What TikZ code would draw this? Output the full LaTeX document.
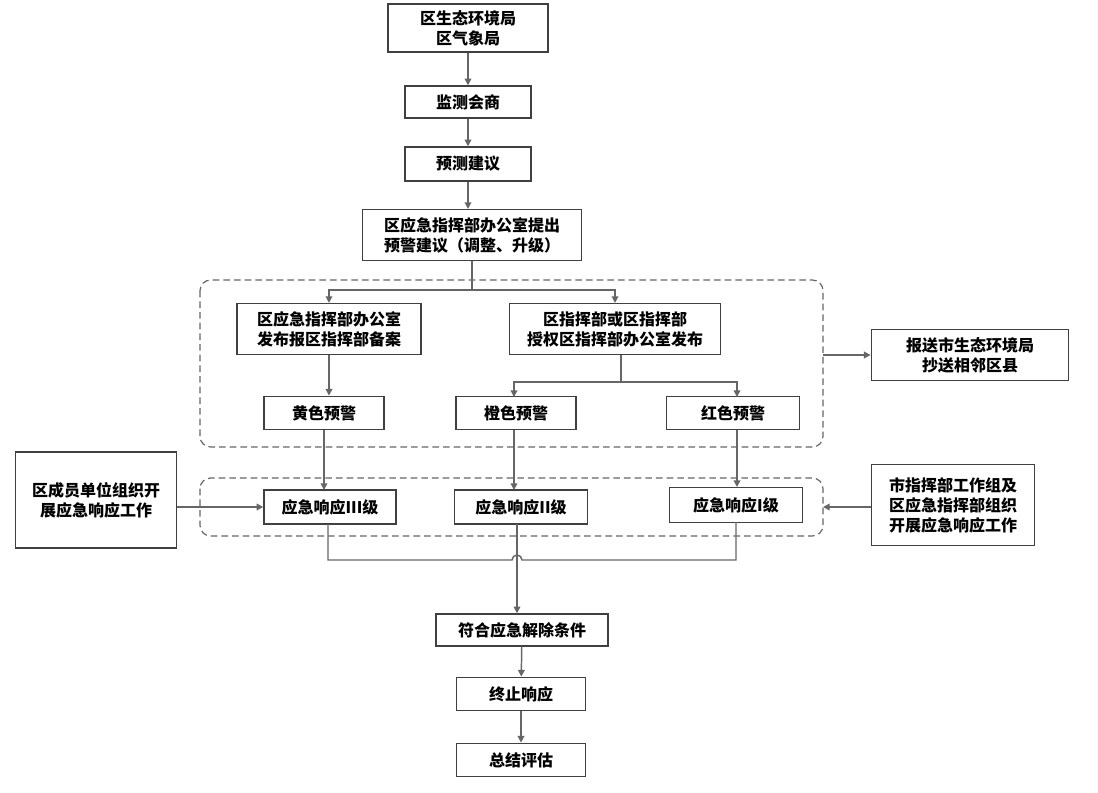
\documentclass[tikz,border=0pt]{standalone}
\usepackage{fontspec}
\setmainfont{Noto Sans CJK SC}
\usetikzlibrary{arrows.meta}
\begin{document}
\begin{tikzpicture}[x=0.75pt,y=-0.75pt,
 box/.style={draw=black!75,line width=1.1pt,fill=white,inner sep=0pt,align=center,font=\fontsize{12}{15}\selectfont\bfseries},
 ln/.style={draw=black!60,line width=1.1pt},
 ar/.style={ln,-{Triangle[length=5pt,width=5pt]}},
 dsh/.style={draw=black!60,line width=0.9pt,dash pattern=on 5pt off 3pt,rounded corners=8pt}]
\useasboundingbox (0,0) rectangle (1098,792);
\draw[dsh] (200,280) rectangle (823,447);
\draw[dsh] (200,478) rectangle (823,536);
\node[box,minimum width=120pt,minimum height=36pt] (a) at (468,28) {区生态环境局\\区气象局};
\node[box,minimum width=94.5pt,minimum height=24pt] (b) at (468,102) {监测会商};
\node[box,minimum width=94.5pt,minimum height=25.5pt] (c) at (468,164) {预测建议};
\node[box,minimum width=164pt,minimum height=38pt] (d) at (472,235) {区应急指挥部办公室提出\\预警建议（调整、升级）};
\node[box,minimum width=138pt,minimum height=38pt] (e) at (329,329) {区应急指挥部办公室\\发布报区指挥部备案};
\node[box,minimum width=158pt,minimum height=38pt] (f) at (615,329) {区指挥部或区指挥部\\授权区指挥部办公室发布};
\node[box,minimum width=148pt,minimum height=38pt] (g) at (970,355) {报送市生态环境局\\抄送相邻区县};
\node[box,minimum width=90pt,minimum height=25pt] (y) at (324,413) {黄色预警};
\node[box,minimum width=90pt,minimum height=25pt] (o) at (516,413) {橙色预警};
\node[box,minimum width=100pt,minimum height=25pt] (r) at (733,413) {红色预警};
\node[box,minimum width=121pt,minimum height=72pt] (m) at (96,500) {区成员单位组织开\\展应急响应工作};
\node[box,minimum width=99pt,minimum height=25.5pt] (r3) at (330,507) {应急响应III级};
\node[box,minimum width=100pt,minimum height=25.5pt] (r2) at (521,507) {应急响应II级};
\node[box,minimum width=100pt,minimum height=26pt] (r1) at (736,505) {应急响应I级};
\node[box,minimum width=122pt,minimum height=61pt] (s) at (953,505) {市指挥部工作组及\\区应急指挥部组织\\开展应急响应工作};
\node[box,minimum width=129pt,minimum height=24pt] (h) at (522,630) {符合应急解除条件};
\node[box,minimum width=97pt,minimum height=25pt] (t) at (521,694) {终止响应};
\node[box,minimum width=97pt,minimum height=25pt] (u) at (521,760) {总结评估};
\coordinate (dbr) at (823,355);
\coordinate (dbr2) at (823,507);
\draw[ar] (a) -- (b);
\draw[ar] (b) -- (c);
\draw[ar] (c.south) -- (c.south |- d.north);
\draw[ln] (d.south) -- (472,290);
\draw[ar] (472,290) -| (e.north);
\draw[ar] (472,290) -| (f.north);
\draw[ar] (e.south) -- (y.north -| e.south);
\draw[ln] (621,355) -- (621,382);
\draw[ar] (621,382) -| (514,397);
\draw[ar] (621,382) -| (737,397);
\draw[ar] (dbr) -- (g.west);
\draw[ar] (324,430) -- (324,490);
\draw[ar] (514,430) -- (514,490);
\draw[ar] (737,430) -- (737,487);
\draw[ar] (m.east |- r3) -- (r3.west);
\draw[ar] (s.west |- dbr2) -- (dbr2);
\draw[ln] (328,524) -- (328,560) -- (512,560) arc[start angle=180,end angle=0,radius=3.75pt] -- (736,560) -- (736,522);
\draw[ar] (517,524) -- (h.north -| 517,0);
\draw[ar] (h) -- (t);
\draw[ar] (t) -- (u);
\end{tikzpicture}
\end{document}
